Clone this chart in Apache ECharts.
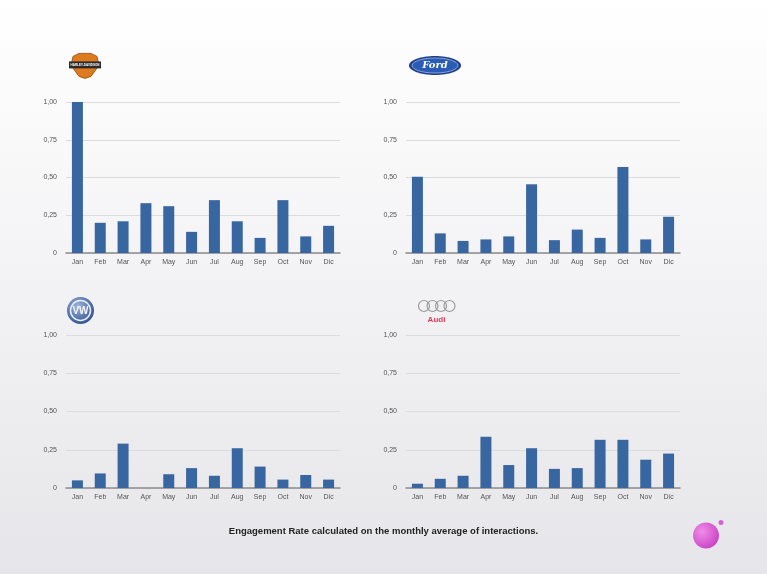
<!DOCTYPE html>
<html>
<head>
<meta charset="utf-8">
<script src="https://cdn.jsdelivr.net/npm/echarts@6/dist/echarts.min.js"></script>
<style>
html, body { margin: 0; padding: 0; }
#main { width: 767px; height: 574px; }
</style>
</head>
<body>
<div id="main"></div>
<script>
// months (labels as in the source, "Dic" included)
var months = ['Jan', 'Feb', 'Mar', 'Apr', 'May', 'Jun', 'Jul', 'Aug', 'Sep', 'Oct', 'Nov', 'Dic'];
var yTicks = [0, 0.25, 0.5, 0.75, 1];

// engagement rate per brand
var harley = [1.00, 0.20, 0.21, 0.33, 0.31, 0.14, 0.35, 0.21, 0.10, 0.35, 0.11, 0.18];
var ford = [0.505, 0.13, 0.08, 0.09, 0.11, 0.455, 0.085, 0.155, 0.10, 0.57, 0.09, 0.24];
var vw = [0.05, 0.095, 0.29, 0, 0.09, 0.13, 0.08, 0.26, 0.14, 0.055, 0.085, 0.055];
var audi = [0.028, 0.06, 0.08, 0.335, 0.15, 0.26, 0.125, 0.13, 0.315, 0.315, 0.185, 0.225];

var caption = 'Engagement Rate calculated on the monthly average of interactions.';

var barColor = '#3766a0';
var font = 'Liberation Sans';

var grids = [
    { left: 66, top: 102, width: 274, height: 151 },
    { left: 406, top: 102, width: 274, height: 151 },
    { left: 66, top: 335, width: 274, height: 153 },
    { left: 406, top: 335, width: 274, height: 153 }
];
var allData = [harley, ford, vw, audi];

var xAxes = [], yAxes = [], series = [];
for (var i = 0; i < 4; i++) {
    xAxes.push({
        type: 'category',
        gridIndex: i,
        data: months,
        axisTick: { show: false },
        axisLine: { lineStyle: { color: '#8c8c8c', width: 1.5 } },
        axisLabel: { color: '#555', fontSize: 7, fontFamily: font, margin: 6, interval: 0 }
    });
    yAxes.push({
        type: 'value',
        gridIndex: i,
        min: yTicks[0],
        max: yTicks[yTicks.length - 1],
        interval: 0.25,
        axisLine: { show: false },
        axisTick: { show: false },
        splitLine: { lineStyle: { color: '#dcdcdc', width: 1 } },
        axisLabel: {
            color: '#555', fontSize: 7, fontFamily: font, margin: 9,
            formatter: function (v) {
                return v === 0 ? '0' : v.toFixed(2).replace('.', ',');
            }
        }
    });
    series.push({
        type: 'bar',
        xAxisIndex: i,
        yAxisIndex: i,
        data: allData[i],
        barWidth: 11,
        itemStyle: { color: barColor },
        silent: true
    });
}

var chart = echarts.init(document.getElementById('main'));
chart.setOption({
    animation: false,
    backgroundColor: {
        type: 'linear', x: 0, y: 0, x2: 0, y2: 1,
        colorStops: [{ offset: 0, color: '#ffffff' }, { offset: 1, color: '#e6e6ea' }]
    },
    grid: grids,
    xAxis: xAxes,
    yAxis: yAxes,
    series: series,
    graphic: [
        // caption
        {
            type: 'text', left: 'center', top: 526,
            style: { text: caption, fill: '#222', font: 'bold 9.5px "Liberation Sans"' }
        },
        // Harley-Davidson shield
        {
            type: 'group', left: 69, top: 53,
            children: [
                { type: 'polygon', shape: { points: [[4, 3], [10, 0], [22, 0], [28, 3], [30, 12], [22, 23], [16, 25], [10, 23], [2, 12]] },
                  style: { fill: '#e07a1f', stroke: '#8a4a10', lineWidth: 0.8 } },
                { type: 'rect', shape: { x: 0, y: 8, width: 32, height: 7 }, style: { fill: '#2b2b2b' } },
                { type: 'text', style: { x: 16, y: 11.5, text: 'HARLEY-DAVIDSON', fill: '#fff', font: 'bold 3px "Liberation Sans"', align: 'center', verticalAlign: 'middle' } }
            ]
        },
        // Ford oval
        {
            type: 'group', left: 409, top: 56,
            children: [
                { type: 'ellipse', shape: { cx: 26, cy: 9.5, rx: 26, ry: 9.5 }, style: { fill: '#1d3f8f' } },
                { type: 'ellipse', shape: { cx: 26, cy: 9.5, rx: 23, ry: 7.5 }, style: { fill: '#2a5bb5', stroke: '#cfd8ea', lineWidth: 0.6 } },
                { type: 'text', style: { x: 26, y: 9.5, text: 'Ford', fill: '#fff', font: 'italic bold 10px "DejaVu Serif"', align: 'center', verticalAlign: 'middle' } }
            ]
        },
        // VW roundel
        {
            type: 'group', left: 67, top: 297,
            children: [
                { type: 'circle', shape: { cx: 13.5, cy: 13.5, r: 13.5 },
                  style: { fill: { type: 'radial', x: 0.4, y: 0.35, r: 0.7, colorStops: [{ offset: 0, color: '#9fb6dd' }, { offset: 1, color: '#2d4f91' }] } } },
                { type: 'circle', shape: { cx: 13.5, cy: 13.5, r: 10 }, style: { fill: 'none', stroke: '#e8eef8', lineWidth: 1.5 } },
                { type: 'text', style: { x: 13.5, y: 14, text: 'VW', fill: '#f4f6fa', font: 'bold 10px "Liberation Sans"', align: 'center', verticalAlign: 'middle' } }
            ]
        },
        // Audi rings
        {
            type: 'group', left: 416, top: 298,
            children: [
                { type: 'circle', shape: { cx: 6, cy: 7, r: 5.5 }, style: { fill: 'none', stroke: '#9a9a9a', lineWidth: 1.2 } },
                { type: 'circle', shape: { cx: 14.5, cy: 7, r: 5.5 }, style: { fill: 'none', stroke: '#9a9a9a', lineWidth: 1.2 } },
                { type: 'circle', shape: { cx: 23, cy: 7, r: 5.5 }, style: { fill: 'none', stroke: '#9a9a9a', lineWidth: 1.2 } },
                { type: 'circle', shape: { cx: 31.5, cy: 7, r: 5.5 }, style: { fill: 'none', stroke: '#9a9a9a', lineWidth: 1.2 } },
                { type: 'text', style: { x: 18.5, y: 21, text: 'Audi', fill: '#e23a55', font: 'bold 8px "Liberation Sans"', align: 'center', verticalAlign: 'middle' } }
            ]
        },
        // pink blob
        {
            type: 'group', left: 693, top: 520,
            children: [
                { type: 'ellipse', shape: { cx: 14, cy: 17, rx: 13, ry: 13 },
                  style: { fill: { type: 'radial', x: 0.35, y: 0.35, r: 0.75, colorStops: [{ offset: 0, color: '#f08ce8' }, { offset: 1, color: '#c73fc3' }] } } },
                { type: 'circle', shape: { cx: 29, cy: 4, r: 2.5 }, style: { fill: '#d761d4' } }
            ]
        }
    ]
});
</script>
</body>
</html>
